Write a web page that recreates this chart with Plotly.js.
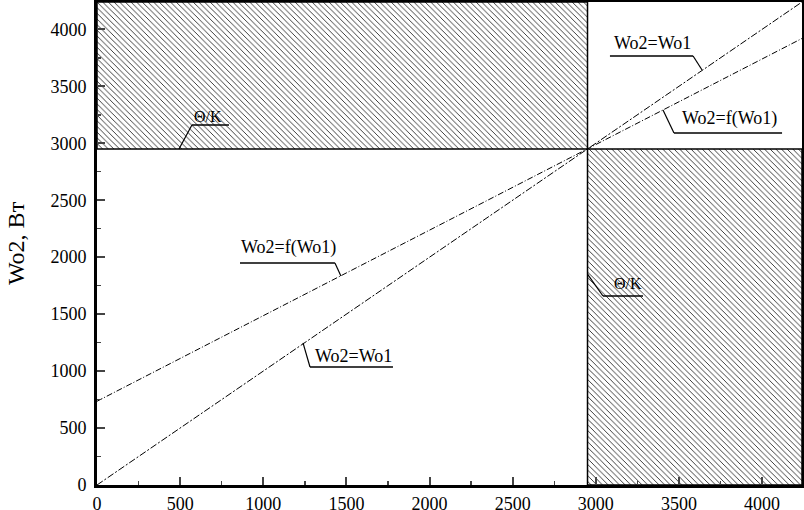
<!DOCTYPE html>
<html>
<head>
<meta charset="utf-8">
<script src="https://cdn.plot.ly/plotly-3.0.1.min.js"></script>
<style>
  body { margin: 0; background: #fff; }
  #plot { width: 804px; height: 510px; }
</style>
</head>
<body>
<div id="plot"></div>
<script>
// axis extent and the Θ/K boundary
let axisMax = 4240;
let boundary = 2950;

// Wo2 = Wo1 line
let equalX = [0, 4240];
let equalY = [0, 4240];

// Wo2 = f(Wo1) line
let funcX = [0, 2950, 4240];
let funcY = [735, 2950, 3920];

// shaded zones (upper-left and lower-right)
let zoneTopX = [0, boundary, boundary, 0, 0];
let zoneTopY = [boundary, boundary, axisMax, axisMax, boundary];
let zoneBotX = [boundary, axisMax, axisMax, boundary, boundary];
let zoneBotY = [0, 0, boundary, boundary, 0];

let tickVals = [0, 500, 1000, 1500, 2000, 2500, 3000, 3500, 4000];

// callout labels: text, text centre, underline start/end, leader end
let labelText = ["\u0398/K", "Wo2=Wo1", "Wo2=f(Wo1)", "Wo2=f(Wo1)", "Wo2=Wo1", "\u0398/K"];
let labelX = [668, 3338, 3801, 1149, 1540, 3194];
let labelY = [3231, 3880, 3221, 2089, 1132, 1773];
let lineX0 = [571, 3085, 3470, 860, 1281, 3043];
let lineX1 = [794, 3585, 4120, 1431, 1780, 3284];
let lineY = [3160, 3766, 3090, 1949, 1036, 1659];
let leadFromX = [571, 3585, 3470, 1431, 1281, 3043];
let leadX = [493, 3639, 3404, 1467, 1239, 2950];
let leadY = [2950, 3643, 3292, 1835, 1247, 1852];
let labelSize = [16, 18, 18, 18, 18, 16];

const SERIF = "Liberation Serif";

function serif(size) {
  return { family: SERIF, size: size, color: "#000" };
}

function zone(xs, ys) {
  return {
    x: xs, y: ys, mode: "lines", fill: "toself",
    fillpattern: { shape: "\\", size: 4, solidity: 0.2, fgcolor: "#111", bgcolor: "#fff" },
    fillcolor: "#fff",
    line: { color: "#000", width: 1.5 }, hoverinfo: "skip"
  };
}

let traces = [
  zone(zoneTopX, zoneTopY),
  zone(zoneBotX, zoneBotY),
  {
    x: equalX, y: equalY, mode: "lines", name: "Wo2=Wo1",
    line: { color: "#000", width: 1, dash: "7px,2px,2px,2px" }
  },
  {
    x: funcX, y: funcY, mode: "lines", name: "Wo2=f(Wo1)",
    line: { color: "#000", width: 1, dash: "6px,2px,1px,2px" }
  }
];

let annotations = [];
let shapes = [];
labelText.forEach((t, i) => {
  annotations.push({
    x: labelX[i], y: labelY[i], xref: "x", yref: "y", text: t, showarrow: false,
    font: serif(labelSize[i])
  });
  shapes.push({
    type: "line", xref: "x", yref: "y",
    x0: lineX0[i], x1: lineX1[i], y0: lineY[i], y1: lineY[i],
    line: { color: "#000", width: 1.5 }
  });
  shapes.push({
    type: "line", xref: "x", yref: "y",
    x0: leadFromX[i], x1: leadX[i], y0: lineY[i], y1: leadY[i],
    line: { color: "#000", width: 1.2 }
  });
});

let layout = {
  width: 804,
  height: 510,
  margin: { l: 97, r: 2, t: 2, b: 25 },
  paper_bgcolor: "#fff",
  plot_bgcolor: "#fff",
  showlegend: false,
  font: serif(18),
  xaxis: {
    range: [0, axisMax], tickvals: tickVals, ticks: "inside", ticklen: 8, tickwidth: 2,
    showgrid: false, zeroline: false, showline: true, linewidth: 3, linecolor: "#000",
    mirror: true, tickfont: serif(18), ticklabelstandoff: 0,
    minor: { dtick: 250, ticks: "inside", ticklen: 4, tickwidth: 1.5, showgrid: false }
  },
  yaxis: {
    range: [0, axisMax], tickvals: tickVals, ticks: "inside", ticklen: 8, tickwidth: 2,
    showgrid: false, zeroline: false, showline: true, linewidth: 3, linecolor: "#000",
    mirror: true, tickfont: serif(18), ticklabelstandoff: 4,
    minor: { dtick: 250, ticks: "inside", ticklen: 4, tickwidth: 1.5, showgrid: false },
    title: { text: "Wo2, \u0412\u0442", font: serif(24), standoff: 20 }
  },
  annotations: annotations,
  shapes: shapes
};

Plotly.newPlot("plot", traces, layout, { displayModeBar: false, staticPlot: true });
</script>
</body>
</html>
